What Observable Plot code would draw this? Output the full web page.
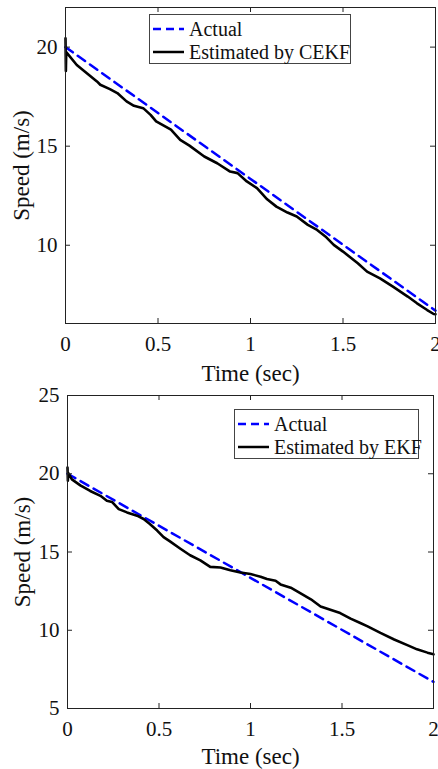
<!DOCTYPE html>
<html>
<head>
<meta charset="utf-8">
<script src="https://cdn.jsdelivr.net/npm/d3@7"></script>
<script src="https://cdn.jsdelivr.net/npm/@observablehq/plot@0.6"></script>
<style>
  html, body { margin: 0; padding: 0; background: white; }
  #wrap { position: relative; width: 438px; height: 769px; overflow: hidden; font-family: "Liberation Serif", "Times New Roman", serif; }
  .legend { position: absolute; background: white; border: 1px solid #444; box-sizing: border-box; }
  .row { position: absolute; left: 0; height: 24px; display: flex; align-items: center; font-size: 20px; color: #111; white-space: nowrap; }
  .row svg { margin-right: 5px; }
  svg { display: block; }
</style>
</head>
<body>
<div id="wrap"></div>
<script>
// ---- data ----
const timeTicks = [0, 0.5, 1, 1.5, 2];
const topSpeedTicks = [10, 15, 20];
const bottomSpeedTicks = [5, 10, 15, 20, 25];

const actualTime = [0, 2];
const actualSpeed = [20, 6.7];

const cekfTime = [0, 0.002, 0.004, 0.061, 0.17, 0.188, 0.24, 0.28, 0.33, 0.37, 0.42, 0.46, 0.49, 0.57, 0.62, 0.67, 0.75, 0.82, 0.89, 0.93, 0.98, 1.035, 1.09, 1.14, 1.20, 1.25, 1.31, 1.36, 1.41, 1.45, 1.50, 1.58, 1.63, 1.70, 1.77, 1.85, 1.90, 1.955, 1.99, 2.0];
const cekfSpeed = [20.45, 18.8, 19.75, 19.1, 18.27, 18.1, 17.88, 17.68, 17.26, 17.04, 16.92, 16.58, 16.25, 15.83, 15.32, 15.03, 14.48, 14.14, 13.72, 13.64, 13.22, 12.88, 12.32, 11.95, 11.65, 11.45, 11.03, 10.77, 10.40, 10.02, 9.68, 9.09, 8.67, 8.33, 7.91, 7.41, 7.07, 6.73, 6.53, 6.52];

const ekfTime = [0, 0.002, 0.004, 0.024, 0.07, 0.124, 0.18, 0.215, 0.243, 0.28, 0.325, 0.38, 0.416, 0.45, 0.49, 0.525, 0.56, 0.617, 0.67, 0.726, 0.78, 0.836, 0.89, 0.945, 1.0, 1.055, 1.09, 1.137, 1.164, 1.22, 1.274, 1.33, 1.383, 1.42, 1.49, 1.547, 1.60, 1.64, 1.71, 1.785, 1.86, 1.91, 1.967, 2.0];
const ekfSpeed = [20.4, 19.55, 20.05, 19.64, 19.26, 18.9, 18.59, 18.27, 18.2, 17.74, 17.53, 17.32, 17.11, 16.79, 16.37, 15.95, 15.68, 15.21, 14.79, 14.47, 14.05, 14.01, 13.84, 13.69, 13.59, 13.42, 13.27, 13.16, 12.93, 12.72, 12.36, 11.98, 11.52, 11.37, 11.10, 10.74, 10.46, 10.25, 9.83, 9.41, 9.03, 8.78, 8.57, 8.46];

const zipSeries = (ts, vs) => ts.map((t, i) => ({t, v: vs[i]}));
const actual = zipSeries(actualTime, actualSpeed);
const cekf = zipSeries(cekfTime, cekfSpeed);
const ekf = zipSeries(ekfTime, ekfSpeed);

const FONT = '"Liberation Serif", "Times New Roman", serif';
const W = 438;

function panel({est, yDomain, yTicks, h, mt, mb, ml, mr, xdy, ydx}) {
  const ph = h - mt - mb;
  const pw = W - ml - mr;
  const tl = 5;
  return Plot.plot({
    width: W, height: h,
    marginTop: mt, marginBottom: mb, marginLeft: ml, marginRight: mr,
    style: {fontFamily: FONT, fontSize: "21px", background: "white", color: "#111", overflow: "visible"},
    x: {domain: [0, 2]},
    y: {domain: yDomain},
    marks: [
      Plot.line(actual, {x: "t", y: "v", stroke: "#0000ff", strokeWidth: 2.5, strokeDasharray: "9,6"}),
      Plot.line(est, {x: "t", y: "v", stroke: "black", strokeWidth: 2.6}),
      Plot.frame({stroke: "#222", strokeWidth: 1}),
      Plot.tickX(timeTicks, {x: d => d, insetTop: ph - tl, stroke: "#222"}),
      Plot.tickX(timeTicks, {x: d => d, insetBottom: ph - tl, stroke: "#222"}),
      Plot.tickY(yTicks, {y: d => d, insetRight: pw - tl, stroke: "#222"}),
      Plot.tickY(yTicks, {y: d => d, insetLeft: pw - tl, stroke: "#222"}),
      Plot.axisX(timeTicks, {tickSize: 0, tickPadding: 13, tickFormat: d => String(d), label: null}),
      Plot.axisY(yTicks, {tickSize: 0, tickPadding: 8, tickFormat: d => String(d), label: null}),
      Plot.text(["Time (sec)"], {text: d => d, frameAnchor: "bottom", textAnchor: "middle", lineAnchor: "middle", dy: xdy, fontSize: 23}),
      Plot.text(["Speed (m/s)"], {text: d => d, frameAnchor: "left", textAnchor: "middle", lineAnchor: "middle", dx: ydx, rotate: -90, fontSize: 23})
    ]
  });
}

const wrap = document.getElementById("wrap");
wrap.appendChild(panel({est: cekf, yDomain: [6.05, 22], yTicks: topSpeedTicks, h: 385, mt: 7, mb: 62, ml: 65, mr: 3, xdy: 50, ydx: -44}));
wrap.appendChild(panel({est: ekf, yDomain: [5, 25], yTicks: bottomSpeedTicks, h: 384, mt: 10, mb: 61, ml: 67, mr: 5, xdy: 48, ydx: -45}));

function legend(x, y, w, h, label) {
  const box = document.createElement("div");
  box.className = "legend";
  Object.assign(box.style, {left: x + "px", top: y + "px", width: w + "px", height: h + "px"});
  const rows = [
    {name: "Actual", stroke: "#0000ff", dash: "8,5"},
    {name: label, stroke: "black", dash: null}
  ];
  rows.forEach((r, i) => {
    const row = document.createElement("div");
    row.className = "row";
    row.style.top = (2 + i * 23) + "px";
    row.style.left = "3px";
    row.innerHTML = `<svg width="31" height="10"><line x1="0" y1="5" x2="31" y2="5" stroke="${r.stroke}" stroke-width="2.5" ${r.dash ? `stroke-dasharray="${r.dash}"` : ""}/></svg><span>${r.name}</span>`;
    box.appendChild(row);
  });
  wrap.appendChild(box);
}
legend(149, 14, 202, 50, "Estimated by CEKF");
legend(234, 409, 185, 50, "Estimated by EKF");
</script>
</body>
</html>
